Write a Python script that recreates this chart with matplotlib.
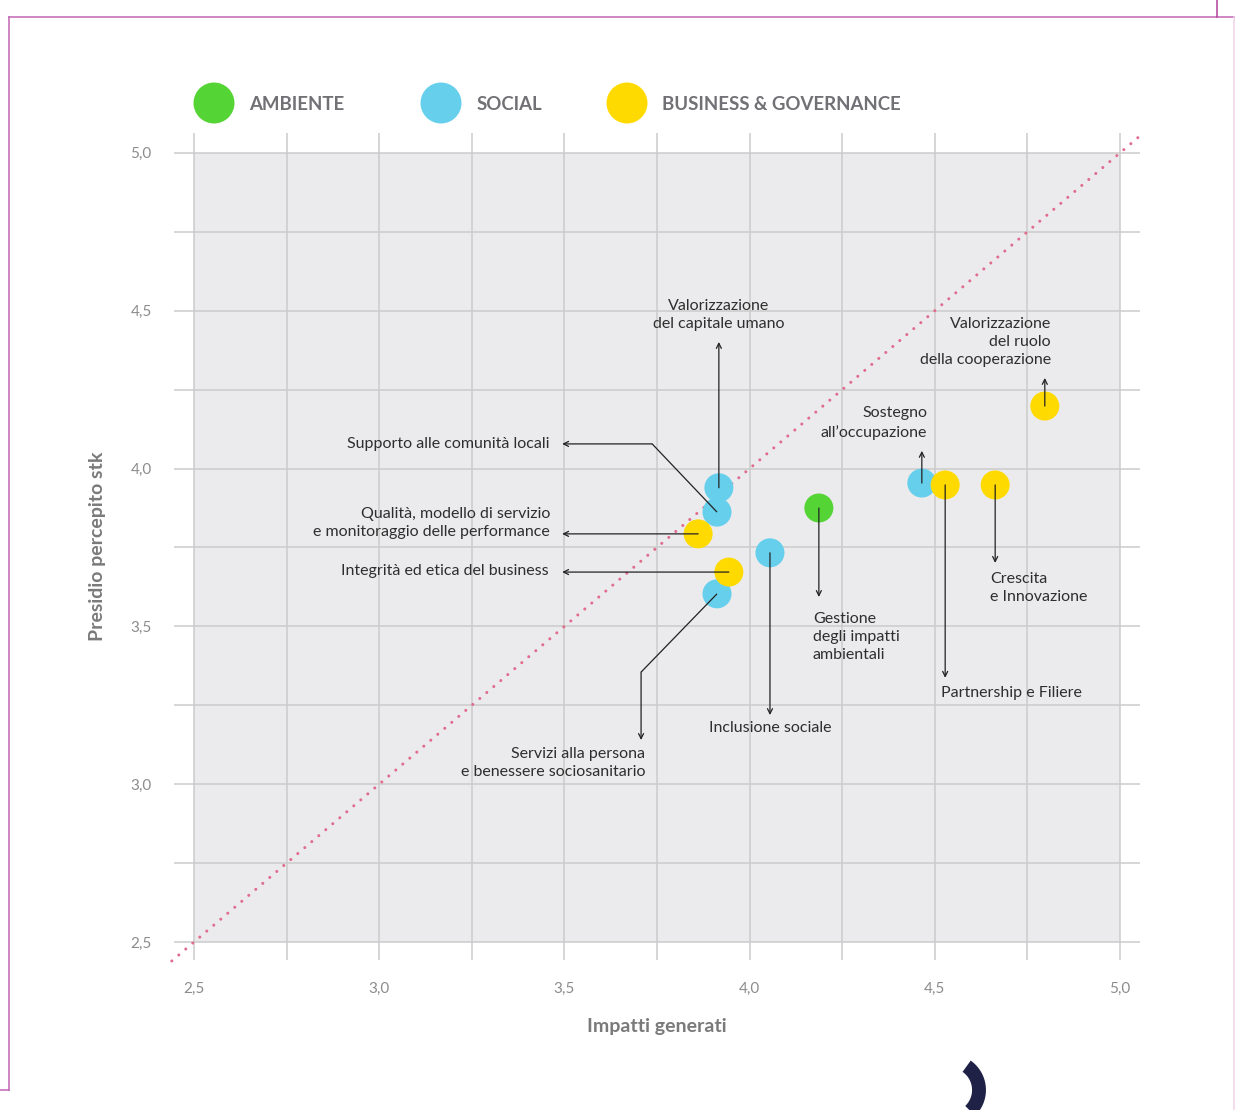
import matplotlib
matplotlib.use("Agg")
import matplotlib.pyplot as plt
import numpy as np

plt.rcParams.update({
    "font.family": ["Lato", "DejaVu Sans"],
})

# ─── Data ──────────────────────────────────────────────────────────
temi = [
    "Valorizzazione del capitale umano",
    "Supporto alle comunità locali",
    "Qualità, modello di servizio e monitoraggio delle performance",
    "Integrità ed etica del business",
    "Servizi alla persona e benessere sociosanitario",
    "Inclusione sociale",
    "Gestione degli impatti ambientali",
    "Sostegno all'occupazione",
    "Partnership e Filiere",
    "Crescita e Innovazione",
    "Valorizzazione del ruolo della cooperazione",
]
gruppi = ["SOCIAL", "SOCIAL", "BUSINESS", "BUSINESS", "SOCIAL", "SOCIAL",
          "AMBIENTE", "SOCIAL", "BUSINESS", "BUSINESS", "BUSINESS"]
impatti = [3.917, 3.912, 3.861, 3.944, 3.912, 4.055, 4.187, 4.465, 4.528, 4.663, 4.797]
presidio = [3.939, 3.862, 3.793, 3.672, 3.603, 3.733, 3.875, 3.954, 3.948, 3.948, 4.198]

legend_names = ["AMBIENTE", "SOCIAL", "BUSINESS & GOVERNANCE"]
legend_keys = ["AMBIENTE", "SOCIAL", "BUSINESS"]
major_ticks = [2.5, 3.0, 3.5, 4.0, 4.5, 5.0]
grid_steps = np.arange(2.5, 5.01, 0.25)

COLORS = {
    "AMBIENTE": "#55D435",
    "SOCIAL": "#66CFEC",
    "BUSINESS": "#FFDA00",
}

# label text, arrow path (from point to label), text anchor, alignment
ANNOTATIONS = [
    ("Valorizzazione\ndel capitale umano", [(3.917, 3.939), (3.917, 4.401)],
     (3.917, 4.487), "center"),
    ("Supporto alle comunità locali", [(3.912, 3.862), (3.737, 4.078), (3.494, 4.078)],
     (3.461, 4.078), "right"),
    ("Qualità, modello di servizio\ne monitoraggio delle performance",
     [(3.861, 3.793), (3.494, 3.793)], (3.461, 3.828), "right"),
    ("Integrità ed etica del business", [(3.944, 3.672), (3.494, 3.672)],
     (3.458, 3.676), "right"),
    ("Servizi alla persona\ne benessere sociosanitario",
     [(3.912, 3.603), (3.707, 3.355), (3.707, 3.140)], (3.718, 3.067), "right"),
    ("Inclusione sociale", [(4.055, 3.733), (4.055, 3.219)],
     (4.055, 3.178), "center"),
    ("Gestione\ndegli impatti\nambientali", [(4.187, 3.875), (4.187, 3.593)],
     (4.171, 3.466), "left"),
    ("Sostegno\nall\u2019occupazione", [(4.465, 3.954), (4.465, 4.056)],
     (4.479, 4.144), "right"),
    ("Partnership e Filiere", [(4.528, 3.948), (4.528, 3.337)],
     (4.517, 3.289), "left"),
    ("Crescita\ne Innovazione", [(4.663, 3.948), (4.663, 3.701)],
     (4.649, 3.622), "left"),
    ("Valorizzazione\ndel ruolo\ndella cooperazione", [(4.797, 4.198), (4.797, 4.287)],
     (4.814, 4.401), "right"),
]

W, H = 1235, 1110
fig = plt.figure(figsize=(W / 100, H / 100), dpi=100, facecolor="white")

ax = fig.add_axes([174 / W, 1 - 960 / H, (1140 - 174) / W, (960 - 133) / H])
ax.set_xlim(2.446, 5.054)
ax.set_ylim(2.443, 5.063)
ax.set_facecolor("white")
for s in ax.spines.values():
    s.set_visible(False)

# gray plot field + grid
ax.add_patch(plt.Rectangle((2.5, 2.5), 2.5, 2.5, facecolor="#EBEBED",
                           edgecolor="none", zorder=0))
for v in grid_steps:
    ax.axvline(v, color="#CBCBCB", lw=1.1, zorder=1)
    ax.axhline(v, color="#CBCBCB", lw=1.1, zorder=1)

# diagonal reference
ax.plot([2.44, 5.063], [2.44, 5.063], color="#E06C8E", lw=2.2,
        linestyle=(0, (0.01, 3.0)), dash_capstyle="round", zorder=2,
        clip_on=False)

# points
for key in legend_keys:
    xs = [x for x, g in zip(impatti, gruppi) if g == key]
    ys = [y for y, g in zip(presidio, gruppi) if g == key]
    ax.scatter(xs, ys, s=436, color=COLORS[key], edgecolors="none",
               zorder=3)

# annotations
for text, path, (tx, ty), ha in ANNOTATIONS:
    if len(path) > 2:
        px, py = zip(*path[:-1])
        ax.plot(px, py, color="#222222", lw=0.9, zorder=4,
                solid_capstyle="butt")
    ax.annotate("", xy=path[-1], xytext=path[-2],
                arrowprops=dict(arrowstyle="->", color="#222222", lw=0.9,
                                shrinkA=0, shrinkB=0, mutation_scale=9),
                zorder=4)
    ax.text(tx, ty, text, ha=ha, va="center", multialignment=ha,
            fontsize=11.5, color="#2E2E2E", linespacing=1.4, zorder=5)

ax.set_xticks(major_ticks)
ax.set_yticks(major_ticks)
ax.set_xticklabels([f"{t:.1f}".replace(".", ",") for t in major_ticks])
ax.set_yticklabels([f"{t:.1f}".replace(".", ",") for t in major_ticks])
ax.tick_params(length=0, labelsize=11, labelcolor="#8C8C8C")
ax.tick_params(axis="x", pad=16)
ax.tick_params(axis="y", pad=16)

ax.set_xlabel("Impatti generati", fontsize=14, fontweight="bold",
              color="#7A7A7A", labelpad=16)
ax.set_ylabel("Presidio percepito stk", fontsize=14, fontweight="bold",
              color="#7A7A7A", labelpad=18)

# ─── Overlay: legend, page frame, decoration ──────────────────────
ov = fig.add_axes([0, 0, 1, 1], zorder=-1)
ov.set_xlim(0, W)
ov.set_ylim(H, 0)
ov.axis("off")

leg_cx = [214, 441, 627]
leg_tx = [249, 477, 662]
for name, key, cx, tx in zip(legend_names, legend_keys, leg_cx, leg_tx):
    ov.scatter([cx], [103], s=870, color=COLORS[key], edgecolors="none")
    ov.text(tx, 105, name, ha="left", va="center", fontsize=13.4,
            fontweight="bold", color="#707075")

frame = "#C266B4"
ov.plot([8.5, W], [16.5, 16.5], color=frame, lw=1.1)
ov.plot([8.5, 8.5], [16.5, 1090], color=frame, lw=1.1)
ov.plot([0, 8.5], [1090, 1090], color=frame, lw=1.1)
ov.plot([1216.5, 1216.5], [0, 16.5], color="#B0409C", lw=1.1)
ov.plot([1233.5, 1233.5], [16.5, H], color="#F0D2EA", lw=1.1)

ang = np.linspace(np.radians(-55), np.radians(46), 60)
ov.plot(950 + 29 * np.cos(ang), 1090 + 29 * np.sin(ang),
        color="#1F2147", lw=10, solid_capstyle="butt")

fig.savefig("out.png", dpi=100, facecolor="white")
